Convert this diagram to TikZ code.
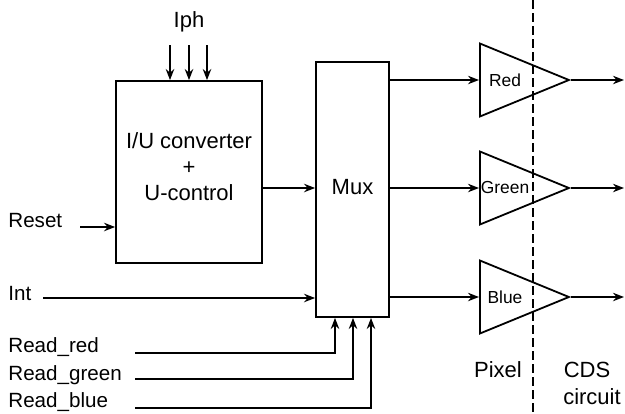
\documentclass[tikz,border=0pt]{standalone}
\usepackage{fontspec}
\setmainfont{Liberation Sans}
\usetikzlibrary{arrows.meta,positioning,shapes.geometric}

\begin{document}
\begin{tikzpicture}[x=0.5pt, y=-0.5pt,
  block/.style={draw, line width=0.9pt, inner sep=0pt, align=center,
    font=\fontsize{11}{13}\selectfont},
  amp/.style={draw, line width=0.9pt, isosceles triangle,
    isosceles triangle stretches, shape border rotate=0,
    minimum width=36.5pt, minimum height=44.5pt, inner sep=0pt},
  amptext/.style={font=\fontsize{8.7}{10}\selectfont, inner sep=0pt},
  lbl/.style={font=\fontsize{11}{13}\selectfont, inner sep=0pt},
  inlbl/.style={font=\fontsize{10.3}{12}\selectfont, inner sep=0pt, anchor=west},
  sig/.style={-{Stealth[length=5.5pt,width=4.2pt]}, line width=0.9pt},
  wire/.style={line width=0.9pt}
]
  \useasboundingbox (0,0) rectangle (625,413);

  % blocks
  \node[block, minimum width=73pt, minimum height=91pt] (conv) at (189,172) {};
  \node[block, draw=none] (convtext) at (189,167) {I/U converter\\+\\U-control};
  \node[block, minimum width=36.5pt, minimum height=127.5pt] (mux) at (352.5,189.5) {};
  \node[lbl] (muxtext) at (352.5,187) {Mux};

  % amplifiers
  \node[amp, anchor=west] (redamp) at (479,80) {};
  \node[amp, anchor=west] (greenamp) at (479,188) {};
  \node[amp, anchor=west] (blueamp) at (479,297) {};
  \node[amptext] at (505,80) {Red};
  \node[amptext] at (505,188) {Green};
  \node[amptext] at (505,297) {Blue};

  % labels
  \node[lbl] (iph) at (189,22) {Iph};
  \node[inlbl] (reset) at (8,221) {Reset};
  \node[inlbl] (int) at (8,293) {Int};
  \node[inlbl] (rdred) at (8,347) {Read\_red};
  \node[inlbl] (rdgreen) at (8,375) {Read\_green};
  \node[inlbl] (rdblue) at (8,402) {Read\_blue};
  \node[lbl] (pixel) at (498,370) {Pixel};
  \node[lbl] (cds) at (587,370) {CDS};
  \node[lbl] (circuit) at (592,397) {circuit};

  % photo current inputs
  \foreach \x/\n in {170/a,189/b,207/c}
    \coordinate (iph\n) at (\x,45);
  \foreach \n in {a,b,c}
    \draw[sig] (iph\n) -- (iph\n |- conv.north);

  % reset and int
  \coordinate (resetin) at (80,227);
  \coordinate (intin) at (43,298);
  \draw[sig] (resetin) -- (resetin -| conv.west);
  \draw[sig] (intin) -- (intin -| mux.west);
  \draw[sig] (conv.east |- 0,188) -- (mux.west |- 0,188);

  % mux outputs
  \draw[sig] (mux.east |- redamp.west) -- (redamp.west);
  \draw[sig] (mux.east |- greenamp.west) -- (greenamp.west);
  \draw[sig] (mux.east |- blueamp.west) -- (blueamp.west);

  % amplifier outputs
  \coordinate (redout) at (624,80);
  \coordinate (greenout) at (624,188);
  \coordinate (blueout) at (624,297);
  \draw[sig] (redamp.apex) -- (redout);
  \draw[sig] (greenamp.apex) -- (greenout);
  \draw[sig] (blueamp.apex) -- (blueout);

  % read lines
  \foreach \y/\x/\n in {353/335/red,379/353/green,408/371/blue} {
    \coordinate (rd\n in) at (135,\y);
    \coordinate (rd\n end) at (\x,317);
    \draw[sig] (rd\n in) -| (rd\n end |- mux.south);
  }

  % pixel / CDS border
  \coordinate (bordertop) at (533,0);
  \coordinate (borderbot) at (533,413);
  \draw[wire, dash pattern=on 4.5pt off 2pt] (bordertop) -- (borderbot);
\end{tikzpicture}
\end{document}
